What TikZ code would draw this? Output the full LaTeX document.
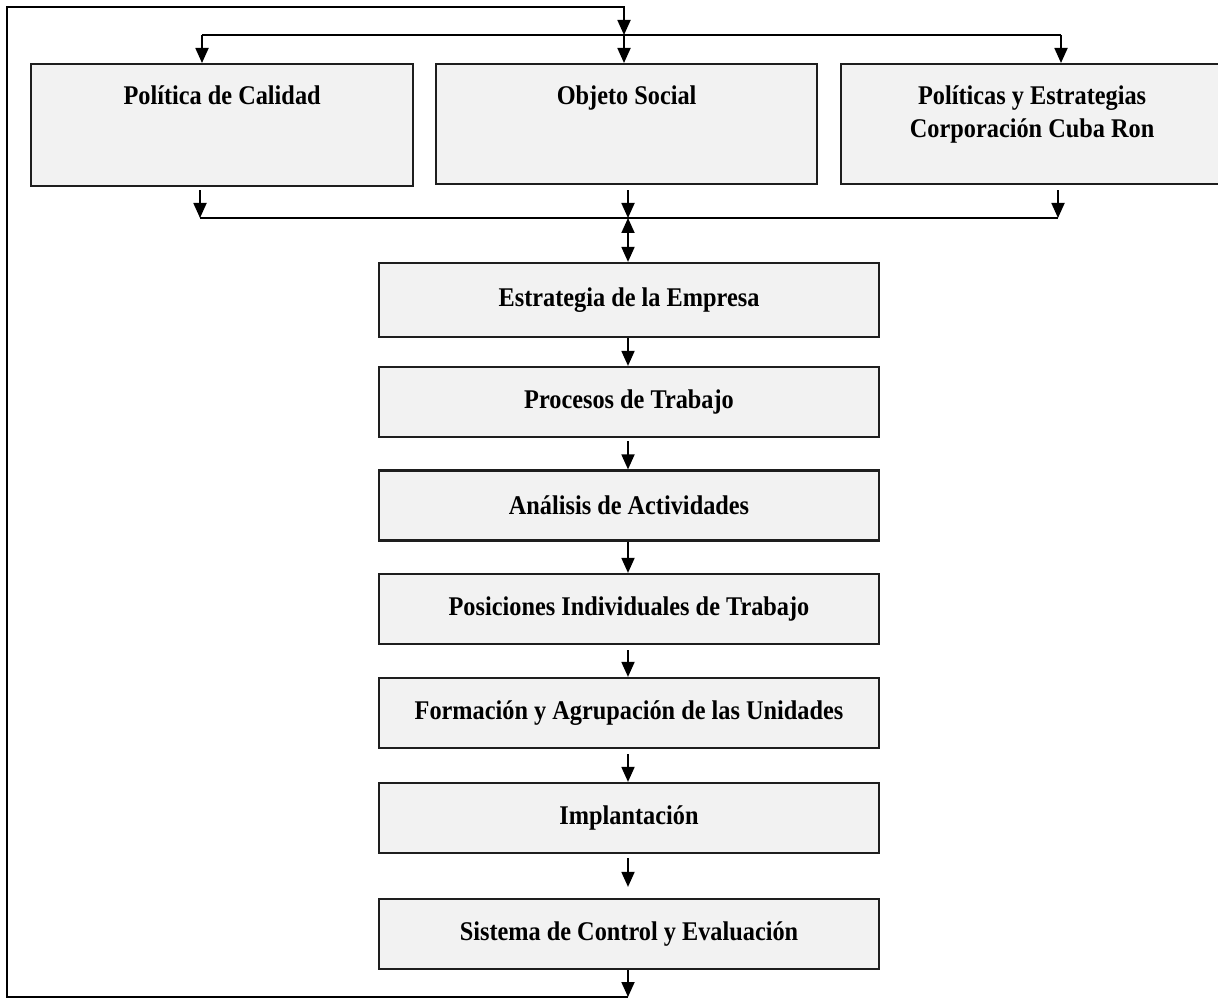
\documentclass[tikz,border=0pt]{standalone}
\usepackage{fontspec}
\setmainfont{Liberation Serif}[FakeStretch=0.9]
\usetikzlibrary{arrows.meta}
\definecolor{boxfill}{HTML}{F2F2F2}
\definecolor{boxline}{HTML}{1E1E1E}
\begin{document}
\begin{tikzpicture}[x=1pt,y=-1pt,
  font=\fontsize{27}{33}\selectfont\bfseries,
  box/.style={draw=boxline, line width=2.2pt, fill=boxfill, rectangle, inner sep=0pt},
  topbox/.style={box, minimum height=120pt, minimum width=382pt},
  midbox/.style={box, minimum width=500pt, minimum height=70pt},
  tlabel/.style={anchor=north, yshift=-22.5pt, align=center, inner sep=0pt, font=\fontsize{27}{33}\selectfont\bfseries},
  conn/.style={line width=1.8pt, draw=black},
  arr/.style={conn, -{Triangle[length=15pt,width=13pt]}},
  darr/.style={conn, {Triangle[length=15pt,width=13pt]}-{Triangle[length=15pt,width=13pt]}}]
\useasboundingbox (0,0) rectangle (1218,1000);
\fill[white] (0,0) rectangle (1218,1000);

% top boxes
\node[topbox, minimum height=122pt, anchor=north west, label={[tlabel]north:Política de Calidad}] (pc) at (30,63) {};
\node[topbox, minimum width=381pt, anchor=north west, label={[tlabel]north:Objeto Social}] (os) at (435,63) {};
\node[topbox, anchor=north west, label={[tlabel]north:Políticas y Estrategias\\Corporación Cuba Ron}] (pe) at (840,63) {};

% central column
\node[midbox, minimum height=74pt] (est) at (629,300) {Estrategia de la Empresa};
\node[midbox] (pro) at (629,402) {Procesos de Trabajo};
\node[midbox] (ana) at (629,505.5) {Análisis de Actividades};
\node[midbox] (pos) at (629,609) {Posiciones Individuales de Trabajo};
\node[midbox] (for) at (629,713) {Formación y Agrupación de las Unidades};
\node[midbox] (imp) at (629,818) {Implantación};
\node[midbox] (sis) at (629,934) {Sistema de Control y Evaluación};

% coordinates
\coordinate (tl) at (7,7);
\coordinate (tj) at (624,7);
\coordinate (d) at (624,35);
\coordinate (dl) at (202,35);
\coordinate (dr) at (1061,35);
\coordinate (c1) at (200,218);
\coordinate (c2) at (628,218);
\coordinate (c3) at (1058,218);
\coordinate (fb) at (628,997);
\coordinate (bl) at (7,997);

% feedback loop
\draw[arr] (fb) -- (bl) -- (tl) -- (tj) -- (d);
\draw[arr] (sis.south -| fb) -- (fb);

% distribution
\draw[conn] (dl) -- (dr);
\draw[arr] (dl) -- (dl |- pc.north);
\draw[arr] (d) -- (d |- os.north);
\draw[arr] (dr) -- (dr |- pe.north);

% collection
\draw[arr, shorten <=3pt] (c1 |- pc.south) -- (c1);
\draw[arr, shorten <=5pt] (c2 |- os.south) -- (c2);
\draw[arr, shorten <=5pt] (c3 |- pe.south) -- (c3);
\draw[conn] (c1) -- (c3);
\draw[darr] (c2) -- (c2 |- est.north);

% chain
\draw[arr] (est.south -| c2) -- (c2 |- pro.north);
\draw[arr, shorten <=3pt] (pro.south -| c2) -- (c2 |- ana.north);
\draw[arr] (ana.south -| c2) -- (c2 |- pos.north);
\draw[arr, shorten <=5pt] (pos.south -| c2) -- (c2 |- for.north);
\draw[arr, shorten <=5pt] (for.south -| c2) -- (c2 |- imp.north);
\draw[arr, shorten <=4pt, shorten >=11pt] (imp.south -| c2) -- (c2 |- sis.north);
\end{tikzpicture}
\end{document}
